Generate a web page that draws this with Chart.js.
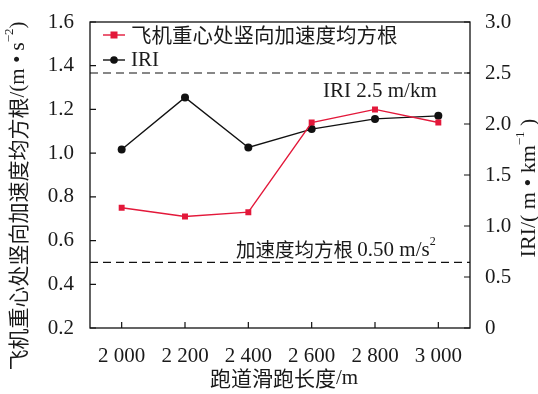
<!DOCTYPE html>
<html>
<head>
<meta charset="utf-8">
<script src="https://cdn.jsdelivr.net/npm/chart.js@4"></script>
</head>
<body style="margin:0; background:#fff">
<canvas id="myChart" width="538" height="394"></canvas>
<script>
// gegevens uit de grafiek
const runwayLengths = ["2 000", "2 200", "2 400", "2 600", "2 800", "3 000"];
const accelRms = [0.75, 0.71, 0.73, 1.14, 1.20, 1.14];
const iriValues = [1.75, 2.26, 1.77, 1.95, 2.05, 2.08];
const leftTicks = [0.2, 0.4, 0.6, 0.8, 1.0, 1.2, 1.4, 1.6];
const rightTicks = [0, 0.5, 1.0, 1.5, 2.0, 2.5, 3.0];
const accelLimit = 0.50;
const iriLimit = 2.5;

const serif = "'Liberation Serif', 'Noto Sans CJK SC', serif";
const cjk = "'Noto Sans CJK SC', 'Liberation Serif', serif";
const redColor = "#e3183a";
const textColor = "#1a1a1a";

Chart.defaults.font.family = serif;
Chart.defaults.color = textColor;

// tekst in stukken: [tekst, lettertype, verschuiving omhoog]
function drawPieces(ctx, pieces, x, y, align) {
  let total = 0;
  pieces.forEach(p => { ctx.font = p[1]; total += ctx.measureText(p[0]).width; });
  let cx = align === "center" ? x - total / 2 : x;
  ctx.textAlign = "left";
  pieces.forEach(p => {
    ctx.font = p[1];
    ctx.fillText(p[0], cx, y - (p[2] || 0));
    cx += ctx.measureText(p[0]).width;
  });
}

// assen, legenda, drempellijnen en teksten tekenen
const decorPlugin = {
  id: "decor",
  beforeDatasetsDraw(chart) {
    const { ctx, chartArea: a, scales } = chart;
    ctx.save();
    ctx.strokeStyle = "#111";
    ctx.lineWidth = 1.2;
    ctx.setLineDash([8, 5]);
    [scales.y.getPixelForValue(accelLimit), scales.y1.getPixelForValue(iriLimit)].forEach(py => {
      ctx.beginPath();
      ctx.moveTo(a.left, py);
      ctx.lineTo(a.right, py);
      ctx.stroke();
    });
    ctx.restore();
  },
  afterDraw(chart) {
    const { ctx, chartArea: a, scales } = chart;
    ctx.save();
    // kader
    ctx.strokeStyle = "#111";
    ctx.lineWidth = 1.3;
    ctx.strokeRect(a.left, a.top, a.right - a.left, a.bottom - a.top);
    // tick streepjes naar binnen
    ctx.lineWidth = 1.2;
    ctx.beginPath();
    leftTicks.forEach(v => {
      const py = scales.y.getPixelForValue(v);
      ctx.moveTo(a.left, py); ctx.lineTo(a.left + 6, py);
    });
    rightTicks.forEach(v => {
      const py = scales.y1.getPixelForValue(v);
      ctx.moveTo(a.right, py); ctx.lineTo(a.right - 6, py);
    });
    runwayLengths.forEach((c, i) => {
      const px = scales.x.getPixelForValue(i);
      ctx.moveTo(px, a.bottom); ctx.lineTo(px, a.bottom - 6);
    });
    ctx.stroke();

    // legenda
    ctx.lineWidth = 1.4;
    ctx.strokeStyle = redColor;
    ctx.beginPath(); ctx.moveTo(103, 35); ctx.lineTo(125, 35); ctx.stroke();
    ctx.fillStyle = redColor;
    ctx.fillRect(110.5, 31.5, 7, 7);
    ctx.strokeStyle = "#111";
    ctx.beginPath(); ctx.moveTo(103, 60); ctx.lineTo(125, 60); ctx.stroke();
    ctx.fillStyle = "#111";
    ctx.beginPath(); ctx.arc(114, 60, 3.8, 0, Math.PI * 2); ctx.fill();

    ctx.fillStyle = textColor;
    ctx.textBaseline = "middle";
    ctx.textAlign = "left";
    ctx.font = "20.5px " + cjk;
    ctx.fillText("飞机重心处竖向加速度均方根", 131, 35);
    ctx.font = "21px " + serif;
    ctx.fillText("IRI", 131, 60);

    // drempelteksten
    ctx.font = "21px " + serif;
    ctx.fillText("IRI 2.5 m/km", 323, 91);
    drawPieces(ctx, [
      ["加速度均方根 ", "19.5px " + cjk],
      ["0.50 m/s", "21px " + serif],
      ["2", "12px " + serif, 8]
    ], 236, 250, "left");

    // astitels
    drawPieces(ctx, [
      ["跑道滑跑长度", "21px " + cjk],
      ["/m", "21px " + serif]
    ], 284, 378, "center");

    ctx.save();
    ctx.translate(18, 196);
    ctx.rotate(-Math.PI / 2);
    drawPieces(ctx, [
      ["飞机重心处竖向加速度均方根", "21px " + cjk],
      ["/(m • s", "21px " + serif],
      ["−2", "13px " + serif, 8],
      [")", "21px " + serif]
    ], 0, 0, "center");
    ctx.restore();

    ctx.save();
    ctx.translate(529, 188);
    ctx.rotate(-Math.PI / 2);
    drawPieces(ctx, [
      ["IRI/( m • km", "22px " + serif],
      ["−1", "13px " + serif, 8],
      [" )", "22px " + serif]
    ], 0, 0, "center");
    ctx.restore();

    ctx.restore();
  }
};

const ctx = document.getElementById("myChart").getContext("2d");
const myChart = new Chart(ctx, {
  type: "line",
  data: {
    labels: runwayLengths,
    datasets: [{
      label: "飞机重心处竖向加速度均方根",
      data: accelRms,
      yAxisID: "y",
      borderColor: redColor,
      backgroundColor: redColor,
      borderWidth: 1.4,
      pointStyle: "rect",
      pointRadius: 4.2,
      pointBorderWidth: 0,
      order: 1
    }, {
      label: "IRI",
      data: iriValues,
      yAxisID: "y1",
      borderColor: "#111",
      backgroundColor: "#111",
      borderWidth: 1.4,
      pointStyle: "circle",
      pointRadius: 4,
      pointBorderWidth: 0,
      order: 2
    }]
  },
  options: {
    responsive: false,
    animation: false,
    layout: { padding: { top: 22, left: 0, right: 0, bottom: 0 } },
    plugins: {
      legend: { display: false },
      tooltip: { enabled: false }
    },
    scales: {
      x: {
        type: "category",
        offset: true,
        grid: { display: false },
        border: { display: false },
        ticks: { color: textColor, padding: 8, font: { family: serif, size: 21 } },
        afterFit(scale) { scale.height = 66; }
      },
      y: {
        position: "left",
        min: 0.2,
        max: 1.6,
        grid: { display: false },
        border: { display: false },
        ticks: {
          stepSize: 0.2,
          color: textColor,
          padding: 8,
          font: { family: serif, size: 21 },
          callback: v => v.toFixed(1)
        },
        afterFit(scale) { scale.width = 90; }
      },
      y1: {
        position: "right",
        min: 0,
        max: 3,
        grid: { display: false },
        border: { display: false },
        ticks: {
          stepSize: 0.5,
          color: textColor,
          padding: 7,
          font: { family: serif, size: 21 },
          callback: v => v === 0 ? "0" : v.toFixed(1)
        },
        afterFit(scale) { scale.width = 68; }
      }
    }
  },
  plugins: [decorPlugin]
});
</script>
</body>
</html>
